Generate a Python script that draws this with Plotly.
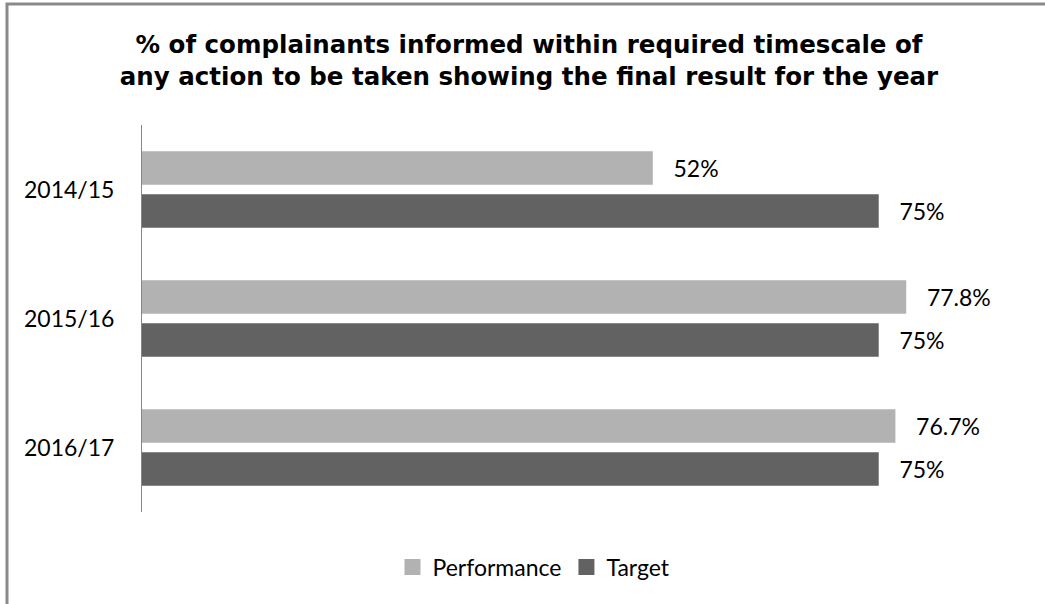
import plotly.graph_objects as go

categories = ["2014/15", "2015/16", "2016/17"]
performance = [52, 77.8, 76.7]
target = [75, 75, 75]
series_names = ["Performance", "Target"]
series_colors = ["#b2b2b2", "#626262"]
title_lines = ["% of complainants informed within required timescale of",
               "any action to be taken showing the final result for the year"]

W, H = 1045, 604
ML, MR, MT, MB = 142, 60, 125, 92
PW = W - ML - MR
PH = H - MT - MB
PX_PER_UNIT = 9.823
XMAX = PW / PX_PER_UNIT

LABEL_FONT = dict(family="Lato", size=23, color="#000000")
NBSP = "\u00a0" * 3

fig = go.Figure()
for name, vals, col in zip(series_names, [performance, target], series_colors):
    fig.add_trace(go.Bar(
        y=categories, x=vals, name=name, orientation="h",
        marker=dict(color=col, line=dict(width=0)),
        texttemplate=NBSP + "%{x}%", textposition="outside",
        textfont=LABEL_FONT, constraintext="none", cliponaxis=False,
        showlegend=False, legendgroup=name,
    ))
# legend entries with larger square swatches
for name, col in zip(series_names, series_colors):
    fig.add_trace(go.Scatter(
        x=[None], y=[None], mode="markers", name=name, legendgroup=name,
        marker=dict(symbol="square", size=16, color=col), showlegend=True,
    ))

# outer chart border (left/top visible, right/bottom off-canvas)
fig.add_shape(type="rect", xref="paper", yref="paper",
              x0=(7 - ML) / PW, x1=(W + 20 - ML) / PW,
              y0=(MT + PH - (H + 20)) / PH, y1=(MT + PH - 4) / PH,
              line=dict(color="#8a8a8a", width=3), layer="above")

fig.update_layout(
    width=W, height=H,
    margin=dict(l=ML, r=MR, t=MT, b=MB, autoexpand=False),
    paper_bgcolor="white", plot_bgcolor="white",
    barmode="group", bargap=0.333, bargroupgap=0.22,
    title=dict(text="<br>".join(title_lines),
               font=dict(family="DejaVu Sans", size=24.5, color="#000000", weight="bold"),
               x=529 / W, xanchor="center", xref="container",
               y=1 - 53 / H, yanchor="top", yref="container",
               pad=dict(t=0)),
    xaxis=dict(range=[0, XMAX], visible=False, showgrid=False, zeroline=False),
    yaxis=dict(autorange="reversed", showline=True, linecolor="#868686", linewidth=1,
               ticks="", showgrid=False, zeroline=False,
               tickfont=LABEL_FONT, ticklabelstandoff=22),
    legend=dict(orientation="h", xanchor="center", yanchor="middle",
                x=(534 - ML) / PW, y=(MT + PH - 567) / PH,
                font=LABEL_FONT, traceorder="normal", itemwidth=30),
    showlegend=True,
)

fig.write_html("out.html")
